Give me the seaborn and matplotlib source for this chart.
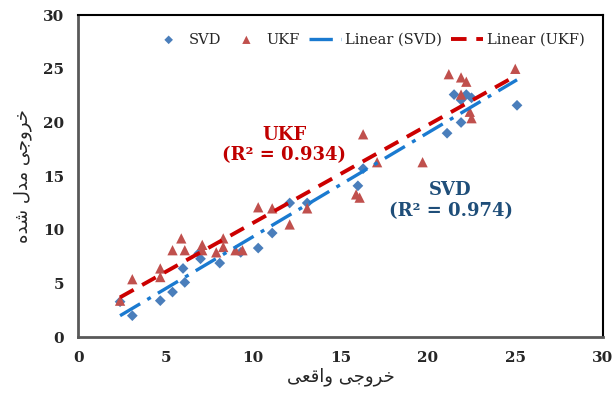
import numpy as np
import pandas as pd
import matplotlib.pyplot as plt
import seaborn as sns

# Data
svd_x = [2.4, 3.1, 4.7, 5.4, 6.1, 6.0, 7.0, 6.9, 8.1, 9.3, 10.3, 11.1, 12.1, 13.1,
         16.0, 16.3, 21.1, 21.5, 21.9, 22.2, 22.5, 21.9, 25.1]
svd_y = [3.3, 2.0, 3.4, 4.2, 5.1, 6.4, 7.3, 7.8, 6.9, 7.9, 8.3, 9.7, 12.5, 12.5,
         14.1, 15.7, 19.0, 22.6, 22.1, 22.6, 22.3, 20.0, 21.6]

ukf_x = [2.4, 3.1, 4.7, 4.7, 5.4, 5.9, 6.1, 7.1, 7.1, 7.9, 8.3, 8.3, 9.0, 9.4,
         10.3, 11.1, 12.1, 13.1, 15.9, 16.1, 16.3, 17.1, 19.7, 21.2, 21.9, 22.2,
         21.9, 22.4, 22.5, 25.0]
ukf_y = [3.4, 5.4, 6.4, 5.6, 8.1, 9.2, 8.1, 8.6, 8.1, 7.9, 9.2, 8.4, 8.1, 8.1,
         12.1, 12.0, 10.5, 12.0, 13.3, 13.0, 18.9, 16.3, 16.3, 24.5, 24.2, 23.8,
         22.6, 21.0, 20.4, 25.0]

ticks = [0, 5, 10, 15, 20, 25, 30]

# Persian labels (presentation forms, visual order)
xlabel = '\uFEF0\uFECC\uFED7\uFE8D\uFEED \uFEF0\uFE9F\uFEED\uFEAE\uFEA7'
ylabel = '\uFEE9\uFEAA\uFEB7 \uFEDD\uFEAA\uFEE3 \uFEF0\uFE9F\uFEED\uFEAE\uFEA7'

svd = pd.DataFrame({'x': svd_x, 'y': svd_y})
ukf = pd.DataFrame({'x': ukf_x, 'y': ukf_y})

sns.set_style('white')
fig = plt.figure(figsize=(6.15, 3.99), dpi=100)
ax = fig.add_axes([0.127, 0.155, 0.853, 0.807])

blue = '#4a7ebb'
red = '#c0504d'

sns.scatterplot(data=svd, x='x', y='y', marker='D', s=30, color=blue,
                edgecolor='none', label='SVD', ax=ax, zorder=3)
sns.scatterplot(data=ukf, x='x', y='y', marker='^', s=55, color=red,
                edgecolor='none', label='UKF', ax=ax, zorder=3)

sns.regplot(data=svd, x='x', y='y', scatter=False, ci=None, truncate=True, ax=ax,
            label='Linear (SVD)',
            line_kws={'color': '#1a7ad0', 'lw': 2.4, 'dashes': (7, 2.5, 1.2, 2.5),
                      'zorder': 4})
sns.regplot(data=ukf, x='x', y='y', scatter=False, ci=None, truncate=True, ax=ax,
            label='Linear (UKF)',
            line_kws={'color': '#cc0000', 'lw': 2.8, 'dashes': (4, 2.5),
                      'zorder': 4})

ax.set_xlim(0, 30)
ax.set_ylim(0, 30)
ax.set_xticks(ticks)
ax.set_yticks(ticks)
ax.set_xticklabels(ticks, fontfamily='DejaVu Serif', fontweight='bold', fontsize=11)
ax.set_yticklabels(ticks, fontfamily='DejaVu Serif', fontweight='bold', fontsize=11)
ax.tick_params(axis='both', direction='out', length=4, color='#888888', pad=6)

ax.set_xlabel(xlabel, fontfamily='DejaVu Sans', fontsize=13, labelpad=2)
ax.set_ylabel(ylabel, fontfamily='DejaVu Sans', fontsize=13, labelpad=8)

for side in ['left', 'bottom']:
    ax.spines[side].set_color('#595959')
    ax.spines[side].set_linewidth(2)
for side in ['top', 'right']:
    ax.spines[side].set_color('black')
    ax.spines[side].set_linewidth(1.5)

ax.text(11.8, 17.9, 'UKF\n(R\u00b2 = 0.934)', color='#c00000', ha='center', va='center',
        fontfamily='DejaVu Serif', fontweight='bold', fontsize=13, linespacing=1.2)
ax.text(21.3, 12.7, 'SVD\n(R\u00b2 = 0.974)', color='#1f4e79', ha='center', va='center',
        fontfamily='DejaVu Serif', fontweight='bold', fontsize=13, linespacing=1.2)

ax.legend(loc='upper right', ncol=4, frameon=False,
          prop={'family': 'DejaVu Serif', 'size': 10.5},
          handlelength=2.2, handletextpad=0.3, columnspacing=0.6,
          borderaxespad=1.0, borderpad=0.2, markerscale=0.8)

fig.savefig('out.png', dpi=100)
